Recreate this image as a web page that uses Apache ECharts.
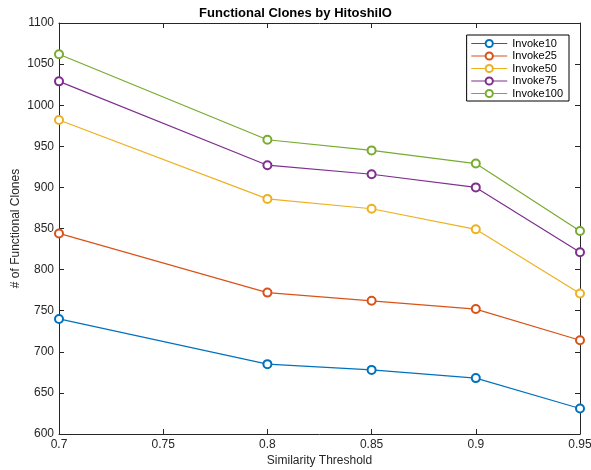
<!DOCTYPE html>
<html><head><meta charset="utf-8">
<script src="https://cdn.jsdelivr.net/npm/echarts@6/dist/echarts.min.js"></script>
<style>html,body{margin:0;padding:0;background:#fff}#c{width:591px;height:470px}</style>
</head><body><div id="c"></div>
<script>
const thresholds = [0.7, 0.8, 0.85, 0.9, 0.95];
const seriesNames = ['Invoke10', 'Invoke25', 'Invoke50', 'Invoke75', 'Invoke100'];
const invoke10 = [740, 685, 678, 668, 631];
const invoke25 = [844, 772, 762, 752, 714];
const invoke50 = [982, 886, 874, 849, 771];
const invoke75 = [1029, 927, 916, 900, 821];
const invoke100 = [1062, 958, 945, 929, 847];
const colors = ['#0072BD', '#D95319', '#EDB120', '#7E2F8E', '#77AC30'];
const allData = [invoke10, invoke25, invoke50, invoke75, invoke100];

const font = 'Liberation Sans, Helvetica, Arial, sans-serif';
const chart = echarts.init(document.getElementById('c'));
const axLine = {show: true, lineStyle: {color: '#262626', width: 1}};
const axTick = {show: true, inside: true, length: 5, lineStyle: {color: '#262626'}};
chart.setOption({
  animation: false,
  color: colors,
  title: {text: 'Functional Clones by HitoshiIO', left: 'center', top: 2,
    textStyle: {fontFamily: font, fontSize: 13, fontWeight: 'bold', color: '#000'}},
  grid: {left: 59, right: 11, top: 23, bottom: 36, outerBoundsMode: 'none', containLabel: false},
  legend: {orient: 'vertical', right: 22, top: 35, data: seriesNames,
    backgroundColor: '#fff', borderColor: '#000', borderWidth: 1, borderRadius: 0,
    padding: [3, 6, 2, 4], itemGap: 1.5, itemWidth: 36, itemHeight: 9,
    lineStyle: {width: 1.2},
    itemStyle: {borderWidth: 1},
    textStyle: {fontFamily: font, fontSize: 11, color: '#000'}},
  xAxis: [{type: 'value', min: 0.7, max: 0.95, interval: 0.05,
    name: 'Similarity Threshold', nameLocation: 'middle', nameGap: 21,
    nameMoveOverlap: false,
    nameTextStyle: {fontFamily: font, fontSize: 12, color: '#262626'},
    axisLine: axLine, axisTick: axTick, splitLine: {show: false},
    axisLabel: {fontFamily: font, fontSize: 12, color: '#262626', margin: 5,
      formatter: v => String(Math.round(v * 100) / 100)}},
    {type: 'value', position: 'top', min: 0.7, max: 0.95, interval: 0.05,
    axisLine: axLine, axisTick: axTick, axisLabel: {show: false}, splitLine: {show: false}}],
  yAxis: [{type: 'value', min: 600, max: 1100, interval: 50,
    name: '# of Functional Clones', nameLocation: 'middle', nameGap: 37,
    nameMoveOverlap: false,
    nameTextStyle: {fontFamily: font, fontSize: 12, color: '#262626'},
    axisLine: axLine, axisTick: axTick, splitLine: {show: false},
    axisLabel: {fontFamily: font, fontSize: 12, color: '#262626', margin: 5,
      formatter: v => String(v)}},
    {type: 'value', position: 'right', min: 600, max: 1100, interval: 50,
    axisLine: axLine, axisTick: axTick, axisLabel: {show: false}, splitLine: {show: false}}],
  series: seriesNames.map((n, i) => ({
    name: n, type: 'line', symbol: 'emptyCircle', symbolSize: 8,
    lineStyle: {width: 1.2, color: colors[i]},
    itemStyle: {color: colors[i], borderColor: colors[i], borderWidth: 1},
    data: thresholds.map((t, j) => [t, allData[i][j]])
  }))
});
</script></body></html>
